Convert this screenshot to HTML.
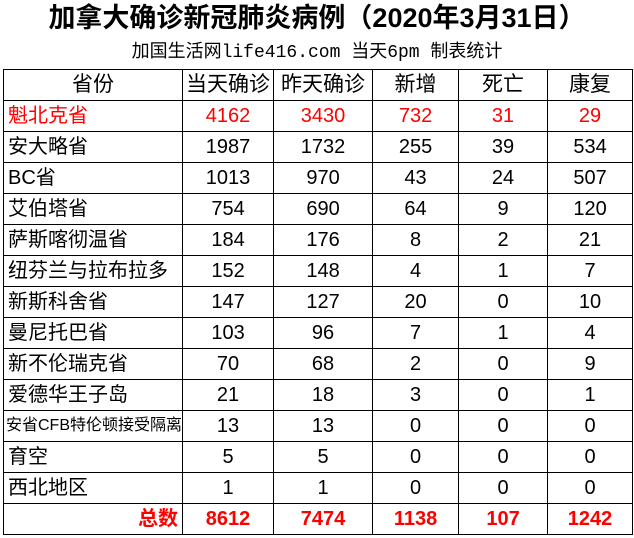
<!DOCTYPE html>
<html><head><meta charset="utf-8"><style>
body{margin:0;width:634px;height:538px;background:#fff;font-family:"Liberation Sans","Noto Sans CJK SC",sans-serif;overflow:hidden}
.t{position:absolute;left:0;width:634px;text-align:center;top:1px;font-size:27px;font-weight:bold;line-height:34px}
.s{position:absolute;left:0;width:634px;text-align:center;top:41px;font-size:18px;line-height:24px;font-family:"Liberation Mono","Noto Sans CJK SC",monospace}
table{position:absolute;left:3px;top:69px;border-collapse:collapse;table-layout:fixed}
td{border:1px solid #000;height:30px;padding:0;text-align:center;font-size:20px;line-height:30px;white-space:nowrap;overflow:hidden}
td:first-child{text-align:left;padding-left:4px}
tr.h td{text-align:center;padding-left:0;font-size:21px}
.r td{color:#f00}
.tot td{color:#f00;font-weight:bold}
.tot td:first-child{text-align:right;padding-right:4px}
</style></head><body>
<div class="t">加拿大确诊新冠肺炎病例（2020年3月31日）</div>
<div class="s">加国生活网life416.com 当天6pm 制表统计</div>
<table>
<colgroup><col style="width:177px"><col style="width:91px"><col style="width:99px"><col style="width:86px"><col style="width:89px"><col style="width:85px"></colgroup>
<tr class="h"><td>省份</td><td>当天确诊</td><td>昨天确诊</td><td>新增</td><td>死亡</td><td>康复</td></tr>
<tr class="r"><td>魁北克省</td><td>4162</td><td>3430</td><td>732</td><td>31</td><td>29</td></tr>
<tr><td>安大略省</td><td>1987</td><td>1732</td><td>255</td><td>39</td><td>534</td></tr>
<tr><td>BC省</td><td>1013</td><td>970</td><td>43</td><td>24</td><td>507</td></tr>
<tr><td>艾伯塔省</td><td>754</td><td>690</td><td>64</td><td>9</td><td>120</td></tr>
<tr><td>萨斯喀彻温省</td><td>184</td><td>176</td><td>8</td><td>2</td><td>21</td></tr>
<tr><td>纽芬兰与拉布拉多</td><td>152</td><td>148</td><td>4</td><td>1</td><td>7</td></tr>
<tr><td>新斯科舍省</td><td>147</td><td>127</td><td>20</td><td>0</td><td>10</td></tr>
<tr><td>曼尼托巴省</td><td>103</td><td>96</td><td>7</td><td>1</td><td>4</td></tr>
<tr><td>新不伦瑞克省</td><td>70</td><td>68</td><td>2</td><td>0</td><td>9</td></tr>
<tr><td>爱德华王子岛</td><td>21</td><td>18</td><td>3</td><td>0</td><td>1</td></tr>
<tr><td style="font-size:16px;padding-left:2px">安省CFB特伦顿接受隔离</td><td>13</td><td>13</td><td>0</td><td>0</td><td>0</td></tr>
<tr><td>育空</td><td>5</td><td>5</td><td>0</td><td>0</td><td>0</td></tr>
<tr><td>西北地区</td><td>1</td><td>1</td><td>0</td><td>0</td><td>0</td></tr>
<tr class="tot"><td>总数</td><td>8612</td><td>7474</td><td>1138</td><td>107</td><td>1242</td></tr>
</table>
</body></html>
